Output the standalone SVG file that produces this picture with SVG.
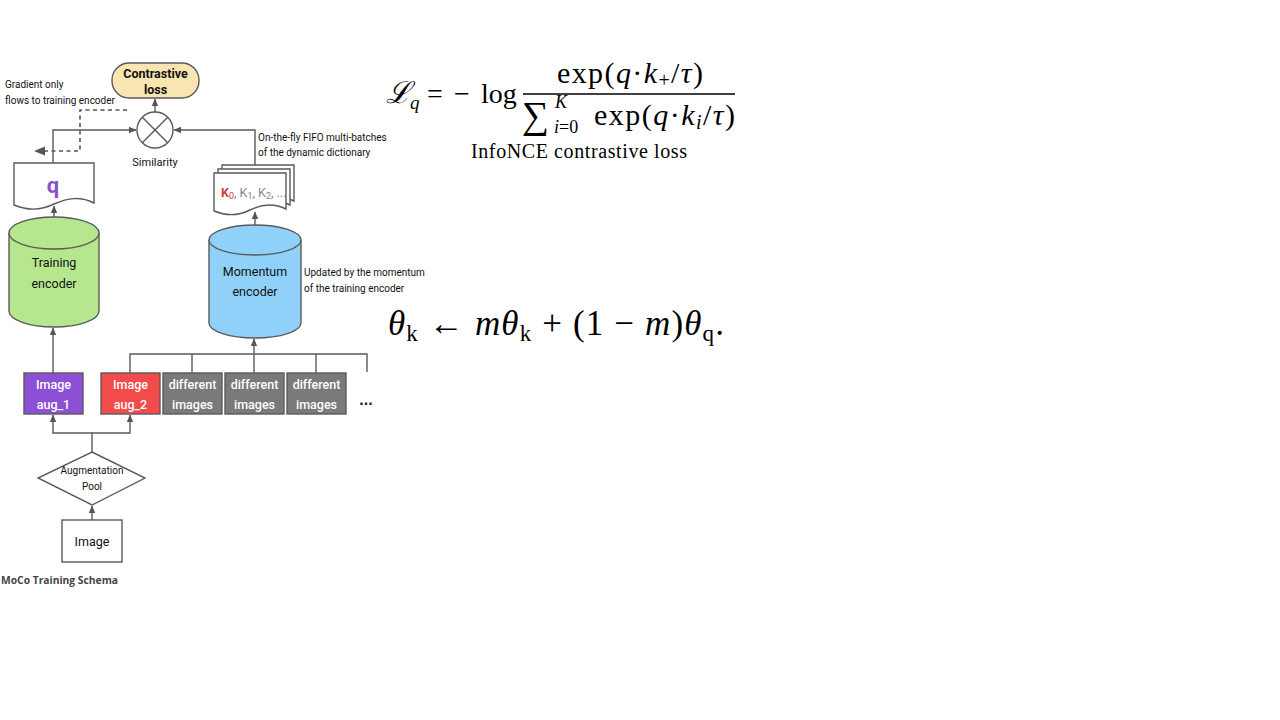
<svg xmlns="http://www.w3.org/2000/svg" width="1280" height="720" viewBox="0 0 1280 720">
<defs>
<marker id="ah" markerUnits="userSpaceOnUse" markerWidth="8" markerHeight="8" viewBox="0 0 8 8" refX="7" refY="4" orient="auto">
<path d="M0,0.8 L7.5,4 L0,7.2 Z" fill="#555"/>
</marker>
<marker id="ahd" markerUnits="userSpaceOnUse" markerWidth="12" markerHeight="12" viewBox="0 0 12 12" refX="11" refY="6" orient="auto">
<path d="M0,1.5 L11,6 L0,10.5 Z" fill="#555"/>
</marker>
<style>
.ln{fill:none;stroke:#5a5a5a;stroke-width:1.4}
.box{stroke:#5a5a5a;stroke-width:1.4}
.lbl{font-family:Roboto,"Liberation Sans",sans-serif;font-weight:400;font-size:12.5px;text-anchor:middle;fill:#111}
.wl{font-family:Roboto,"Liberation Sans",sans-serif;font-weight:500;font-size:12.5px;text-anchor:middle;fill:#fff}
.sm{font-family:Roboto,"Liberation Sans",sans-serif;font-weight:400;font-size:10px;fill:#111}
.mth{font-family:"Liberation Serif","DejaVu Serif",serif;fill:#000}
.it{font-style:italic}
</style>
</defs>
<rect width="1280" height="720" fill="#fff"/>

<g id="connectors">
<line class="ln" x1="155" y1="112" x2="155" y2="99" marker-end="url(#ah)"/>
<polyline class="ln" points="53,164 53,130 136,130" marker-end="url(#ah)"/>
<polyline class="ln" points="255,165 255,130 174,130" marker-end="url(#ah)"/>
<polyline points="127,110 80,110 80,151 34,151" fill="none" stroke="#555" stroke-width="1.6" stroke-dasharray="4,3.5" marker-end="url(#ahd)"/>
<line class="ln" x1="54" y1="217" x2="54" y2="206" marker-end="url(#ah)"/>
<line class="ln" x1="255" y1="225" x2="255" y2="212" marker-end="url(#ah)"/>
<line class="ln" x1="53" y1="373" x2="53" y2="328" marker-end="url(#ah)"/>
<polyline class="ln" points="130,373 130,354 367,354 367,372"/>
<line class="ln" x1="192" y1="354" x2="192" y2="373"/>
<line class="ln" x1="316" y1="354" x2="316" y2="373"/>
<line class="ln" x1="254" y1="373" x2="254" y2="339" marker-end="url(#ah)"/>
<polyline class="ln" points="92,452 92,433 53,433 53,415" marker-end="url(#ah)"/>
<polyline class="ln" points="92,433 130,433 130,415" marker-end="url(#ah)"/>
<line class="ln" x1="92" y1="520" x2="92" y2="506" marker-end="url(#ah)"/>
</g>

<g id="contrastive-loss">
<rect class="box" x="112" y="63" width="87" height="35" rx="17" fill="#f8e5b2"/>
<text class="lbl" x="155.5" y="78" style="font-weight:700">Contrastive</text>
<text class="lbl" x="155.5" y="94" style="font-weight:700">loss</text>
</g>

<g id="similarity">
<circle class="box" cx="155" cy="130" r="18" fill="#fff"/>
<line class="ln" x1="142.3" y1="117.3" x2="167.7" y2="142.7"/>
<line class="ln" x1="167.7" y1="117.3" x2="142.3" y2="142.7"/>
<text class="lbl" x="155" y="166" style="font-size:11px">Similarity</text>
</g>

<g id="gradient-note">
<text class="sm" x="5" y="88">Gradient only</text>
<text class="sm" x="5" y="104">flows to training encoder</text>
</g>

<g id="query">
<path class="box" fill="#fff" d="M14,163 H94 V203 C80,196 68,198 54,204 C40,211 26,210 14,205 Z"/>
<text x="53" y="193" text-anchor="middle" font-family="Roboto,'Liberation Sans',sans-serif" font-weight="700" font-size="22" fill="#8b4fd1">q</text>
</g>

<g id="keys">
<path class="box" fill="#fff" d="M222,165 H294 V201 C282,195 270,196 258,202 C246,208 234,208 222,203 Z"/>
<path class="box" fill="#fff" d="M218,169 H290 V205 C278,199 266,200 254,206 C242,212 230,212 218,207 Z"/>
<path class="box" fill="#fff" d="M214,173 H286 V209 C274,203 262,204 250,210 C238,216 226,216 214,211 Z"/>
<text x="221" y="197" font-family="Roboto,'Liberation Sans',sans-serif" font-size="12.5" fill="#888"><tspan fill="#d43a3a" font-weight="700">K</tspan><tspan fill="#d43a3a" font-size="9" dy="2">0</tspan><tspan dy="-2">, K</tspan><tspan font-size="9" dy="2">1</tspan><tspan dy="-2">, K</tspan><tspan font-size="9" dy="2">2</tspan><tspan dy="-2">, ...</tspan></text>
</g>

<g id="fifo-note">
<text class="sm" x="258" y="141">On-the-fly FIFO multi-batches</text>
<text class="sm" x="258" y="156">of the dynamic dictionary</text>
</g>

<g id="training-encoder">
<path class="box" fill="#b6e68e" d="M9,233 V311 A45,16 0 0 0 99,311 V233"/>
<ellipse class="box" cx="54" cy="233" rx="45" ry="16" fill="#b6e68e"/>
<text class="lbl" x="54" y="267">Training</text>
<text class="lbl" x="54" y="288">encoder</text>
</g>

<g id="momentum-encoder">
<path class="box" fill="#90d1f9" d="M209,240 V323 A46,15 0 0 0 301,323 V240"/>
<ellipse class="box" cx="255" cy="240" rx="46" ry="15" fill="#90d1f9"/>
<text class="lbl" x="255" y="276">Momentum</text>
<text class="lbl" x="255" y="296">encoder</text>
</g>

<g id="momentum-note">
<text class="sm" x="304" y="276">Updated by the momentum</text>
<text class="sm" x="304" y="292">of the training encoder</text>
</g>

<g id="aug1">
<rect class="box" x="24" y="373" width="59" height="41" fill="#8c4fd6"/>
<text class="wl" x="53.5" y="389">Image</text>
<text class="wl" x="53.5" y="409">aug_1</text>
</g>
<g id="aug2">
<rect class="box" x="101" y="373" width="59" height="41" fill="#f24b4b"/>
<text class="wl" x="130.5" y="389">Image</text>
<text class="wl" x="130.5" y="409">aug_2</text>
</g>
<g id="diff1">
<rect class="box" x="163" y="373" width="59" height="41" fill="#7a7a7a"/>
<text class="wl" x="192.5" y="389">different</text>
<text class="wl" x="192.5" y="409">images</text>
</g>
<g id="diff2">
<rect class="box" x="225" y="373" width="59" height="41" fill="#7a7a7a"/>
<text class="wl" x="254.5" y="389">different</text>
<text class="wl" x="254.5" y="409">images</text>
</g>
<g id="diff3">
<rect class="box" x="287" y="373" width="59" height="41" fill="#7a7a7a"/>
<text class="wl" x="316.5" y="389">different</text>
<text class="wl" x="316.5" y="409">images</text>
</g>
<g id="more">
<text x="366" y="405" text-anchor="middle" font-family="'Liberation Sans',sans-serif" font-weight="700" font-size="16" fill="#222">...</text>
</g>

<g id="augmentation-pool">
<polygon class="box" fill="#fff" points="92,452 145,478 92,505 38,478"/>
<text class="sm" x="92" y="474" text-anchor="middle">Augmentation</text>
<text class="sm" x="92" y="490" text-anchor="middle">Pool</text>
</g>

<g id="image">
<rect class="box" x="62" y="520" width="60" height="42" fill="#fff"/>
<text class="lbl" x="92" y="546">Image</text>
</g>

<text x="1" y="584" font-family="'Open Sans','Noto Sans',sans-serif" font-weight="700" font-size="10.3" fill="#444">MoCo Training Schema</text>

<g id="infonce">
<text class="mth it" x="386" y="103" font-size="30" font-family="'DejaVu Serif',serif">ℒ</text>
<text class="mth it" x="410" y="109" font-size="19">q</text>
<text class="mth" x="427" y="103" font-size="28">=</text>
<text class="mth" x="454" y="103" font-size="28">−</text>
<text class="mth" x="481" y="103" font-size="28">log</text>
<line x1="523" y1="94" x2="735" y2="94" stroke="#000" stroke-width="1.3"/>
<text class="mth" x="557" y="83" font-size="30" textLength="146" lengthAdjust="spacing">exp(<tspan class="it">q</tspan>·<tspan class="it">k</tspan><tspan font-size="20" dy="4">+</tspan><tspan dy="-4">/</tspan><tspan class="it">τ</tspan>)</text>
<text class="mth" x="522" y="128" font-size="38" font-family="'DejaVu Serif',serif">∑</text>
<text class="mth it" x="555" y="108" font-size="18">K</text>
<text class="mth" x="554" y="133" font-size="18"><tspan class="it">i</tspan>=0</text>
<text class="mth" x="594" y="125" font-size="30" textLength="141" lengthAdjust="spacing">exp(<tspan class="it">q</tspan>·<tspan class="it">k</tspan><tspan class="it" font-size="20" dy="4">i</tspan><tspan dy="-4">/</tspan><tspan class="it">τ</tspan>)</text>
<text class="mth" x="471" y="158" font-size="20" textLength="216" lengthAdjust="spacing">InfoNCE contrastive loss</text>
</g>

<g id="momentum-update">
<text class="mth" x="388" y="335" font-size="35" textLength="336" lengthAdjust="spacing"><tspan class="it">θ</tspan><tspan font-size="23" dy="6">k</tspan><tspan dy="-6"> ← </tspan><tspan class="it">mθ</tspan><tspan font-size="23" dy="6">k</tspan><tspan dy="-6"> + (1 − </tspan><tspan class="it">m</tspan>)<tspan class="it">θ</tspan><tspan font-size="23" dy="6">q</tspan><tspan dy="-6">.</tspan></text>
</g>
</svg>
